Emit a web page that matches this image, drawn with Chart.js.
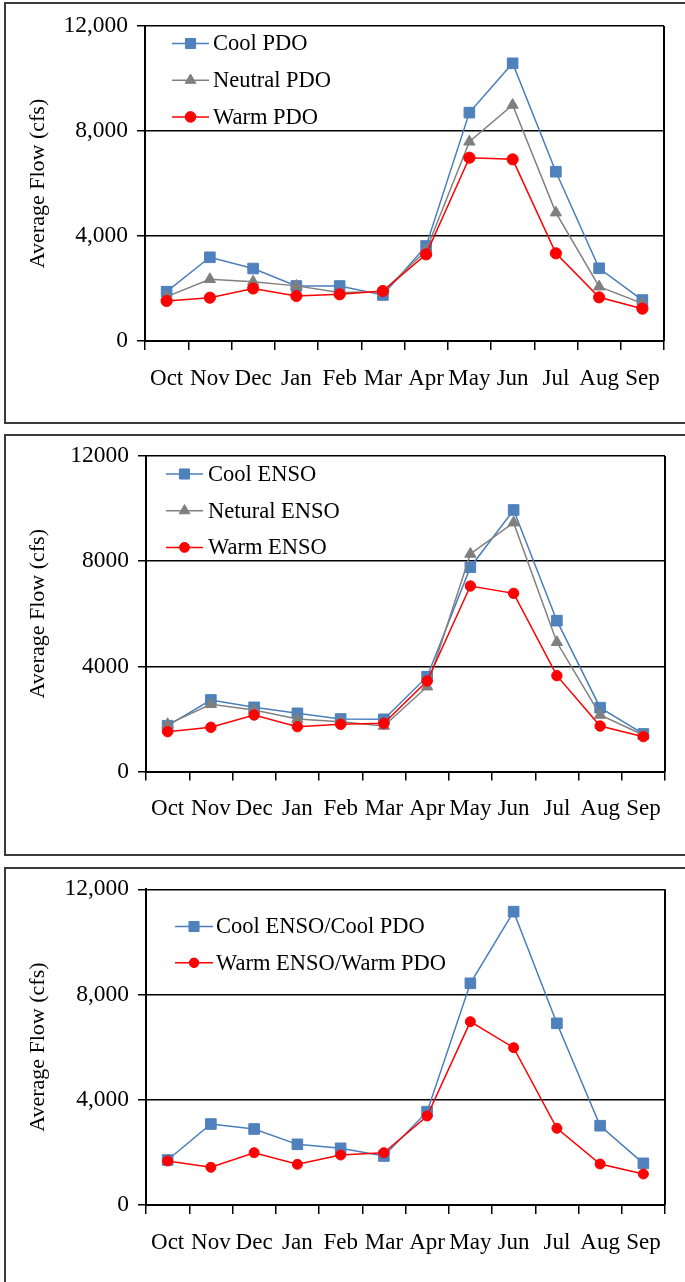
<!DOCTYPE html>
<html>
<head>
<meta charset="utf-8">
<script src="https://cdn.jsdelivr.net/npm/chart.js@4.4.1/dist/chart.umd.min.js"></script>
<style>
    html, body { margin: 0; padding: 0; background: #fff; overflow: hidden; }
    body { width: 685px; height: 1282px; position: relative; }
    .marco { position: absolute; left: 4px; width: 720px; border: 2px solid #3a3a3a; box-sizing: border-box; }
    canvas { position: absolute; left: 0; }
</style>
</head>
<body>
<div class="marco" style="top:2px;height:422px"></div>
<div class="marco" style="top:434px;height:422px"></div>
<div class="marco" style="top:867px;height:440px"></div>
<canvas id="grafico1" width="685" height="430" style="top:0"></canvas>
<canvas id="grafico2" width="685" height="430" style="top:430px"></canvas>
<canvas id="grafico3" width="685" height="422" style="top:860px"></canvas>
<script>
const meses = ['Oct', 'Nov', 'Dec', 'Jan', 'Feb', 'Mar', 'Apr', 'May', 'Jun', 'Jul', 'Aug', 'Sep'];
const ticksConComa = ['0', '4,000', '8,000', '12,000'];
const ticksSinComa = ['0', '4000', '8000', '12000'];

// Panel 1 - PDO
const coolPdo = [1880, 3190, 2760, 2095, 2095, 1752, 3620, 8700, 10580, 6450, 2770, 1560];
const neutralPdo = [1690, 2350, 2260, 2100, 1850, 1880, 3450, 7590, 8990, 4890, 2070, 1435];
const warmPdo = [1524, 1650, 2000, 1714, 1778, 1905, 3300, 6983, 6920, 3340, 1663, 1232];

// Panel 2 - ENSO
const coolEnso = [1742, 2720, 2440, 2212, 1997, 1985, 3607, 7770, 9947, 5737, 2428, 1427];
const neturalEnso = [1795, 2555, 2340, 1997, 1895, 1731, 3226, 8274, 9465, 4915, 2149, 1388];
const warmEnso = [1514, 1681, 2149, 1705, 1795, 1833, 3443, 7056, 6777, 3645, 1730, 1325];

// Panel 3 - combinados
const coolCool = [1710, 3078, 2888, 2306, 2154, 1862, 3547, 8427, 11150, 6906, 3014, 1584];
const warmWarm = [1672, 1432, 1988, 1546, 1900, 1988, 3383, 6968, 5980, 2915, 1558, 1178];

Chart.defaults.font.family = "'Liberation Serif', 'Times New Roman', serif";
Chart.defaults.color = '#000';

const estiloFrio = { borderColor: '#4A7EBB', pointBackgroundColor: '#4F81BD', pointBorderColor: '#4F81BD', pointStyle: 'rect', pointRadius: 7.5, borderWidth: 1.5, order: 3 };
const estiloNeutro = { borderColor: '#808080', pointBackgroundColor: '#7F7F7F', pointBorderColor: '#7F7F7F', pointStyle: 'triangle', pointRadius: 6.5, borderWidth: 1.5, order: 2 };
const estiloCalido = { borderColor: '#FF0000', pointBackgroundColor: '#FF0000', pointBorderColor: '#FF0000', pointStyle: 'circle', pointRadius: 5.6, borderWidth: 1.5, order: 1 };

function serie(label, data, estilo, extra) {
    return Object.assign({ label: label, data: data, tension: 0, pointBorderWidth: 1 }, estilo, extra || {});
}

// linea del borde derecho del area de trazado
const marcoDerecho = {
    id: 'marcoDerecho',
    beforeDatasetsDraw(chart) {
        const a = chart.chartArea;
        const ctx = chart.ctx;
        ctx.save();
        ctx.strokeStyle = '#000';
        ctx.lineWidth = 2;
        ctx.beginPath();
        ctx.moveTo(a.right, a.top);
        ctx.lineTo(a.right, a.bottom);
        ctx.stroke();
        ctx.restore();
    }
};

// leyenda estilo Excel: linea con marcador dentro del area
const leyendaInterna = {
    id: 'leyendaInterna',
    afterDatasetsDraw(chart, args, opts) {
        const ctx = chart.ctx;
        ctx.save();
        chart.data.datasets.forEach(function (ds, i) {
            const y = opts.y + i * opts.gap;
            ctx.strokeStyle = ds.borderColor;
            ctx.lineWidth = ds.borderWidth;
            ctx.beginPath();
            ctx.moveTo(opts.x, y);
            ctx.lineTo(opts.x + opts.largo, y);
            ctx.stroke();
            ctx.fillStyle = ds.pointBackgroundColor;
            ctx.strokeStyle = ds.pointBorderColor;
            ctx.lineWidth = 1;
            Chart.helpers.drawPoint(ctx, { pointStyle: ds.pointStyle, radius: ds.pointRadius * 0.95, borderWidth: 1, rotation: 0 }, opts.x + opts.largo / 2, y);
            ctx.fillStyle = '#000';
            ctx.font = "22.5px 'Liberation Serif', 'Times New Roman', serif";
            ctx.textBaseline = 'middle';
            ctx.textAlign = 'left';
            ctx.fillText(ds.label, opts.textoX, y + 1);
        });
        ctx.restore();
    }
};

function crearGrafico(id, series, etiquetasY, area, leyenda) {
    const canvas = document.getElementById(id);
    const alto = canvas.height;
    return new Chart(canvas.getContext('2d'), {
        type: 'line',
        data: { labels: meses, datasets: series },
        options: {
            responsive: false,
            animation: false,
            layout: { padding: { top: area.top, right: canvas.width - area.right, left: 0, bottom: 0 } },
            plugins: {
                legend: { display: false },
                tooltip: { enabled: false },
                leyendaInterna: leyenda
            },
            scales: {
                x: {
                    offset: true,
                    grid: { offset: true, drawOnChartArea: false, color: '#000', lineWidth: 1.5, tickLength: 9 },
                    border: { color: '#000', width: 2 },
                    ticks: { color: '#000', padding: 15, maxRotation: 0, autoSkip: false, font: { size: 23 } },
                    afterFit: function (s) { s.height = alto - area.bottom; }
                },
                y: {
                    min: 0,
                    max: 12000,
                    ticks: {
                        stepSize: 4000,
                        color: '#000',
                        padding: 9,
                        font: { size: 23.5 },
                        callback: function (v, i) { return etiquetasY[i]; }
                    },
                    grid: { color: '#000', lineWidth: 1.5, tickLength: 8 },
                    border: { color: '#000', width: 2 },
                    title: {
                        display: true,
                        text: 'Average Flow (cfs)',
                        color: '#000',
                        font: { size: 22 },
                        padding: { top: 25, bottom: 0 }
                    },
                    afterFit: function (s) { s.width = area.left; }
                }
            }
        },
        plugins: [marcoDerecho, leyendaInterna]
    });
}

crearGrafico('grafico1', [
    serie('Cool PDO', coolPdo, estiloFrio),
    serie('Neutral PDO', neutralPdo, estiloNeutro),
    serie('Warm PDO', warmPdo, estiloCalido)
], ticksConComa, { left: 145, right: 664, top: 26, bottom: 341 },
   { x: 172, largo: 37, textoX: 213, y: 43.5, gap: 36.7 });

crearGrafico('grafico2', [
    serie('Cool ENSO', coolEnso, estiloFrio),
    serie('Netural ENSO', neturalEnso, estiloNeutro),
    serie('Warm ENSO', warmEnso, estiloCalido, { pointRadius: 5.2 })
], ticksSinComa, { left: 146, right: 665, top: 26, bottom: 341.5 },
   { x: 166, largo: 37, textoX: 208, y: 44, gap: 36.7 });

crearGrafico('grafico3', [
    serie('Cool ENSO/Cool PDO', coolCool, estiloFrio),
    serie('Warm ENSO/Warm PDO', warmWarm, estiloCalido, { pointRadius: 5 })
], ticksConComa, { left: 146, right: 665, top: 29.3, bottom: 345 },
   { x: 175, largo: 38, textoX: 216, y: 66.5, gap: 36.3 });
</script>
</body>
</html>
